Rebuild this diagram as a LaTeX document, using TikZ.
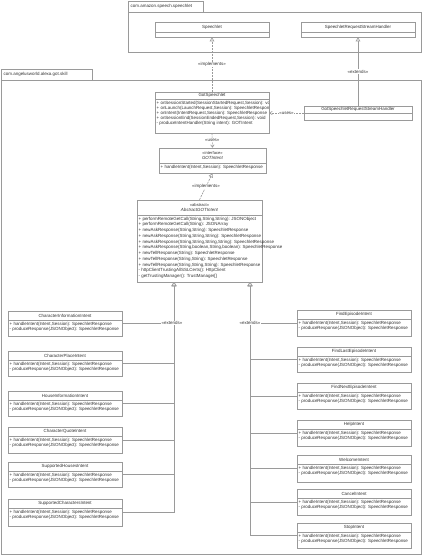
\documentclass[tikz,border=0pt]{standalone}
\usepackage{fontspec}
\setmainfont{Liberation Sans}
\usetikzlibrary{arrows.meta}
\definecolor{lc}{HTML}{9A9A9A}
\definecolor{tc}{HTML}{333333}
\tikzset{
  box/.style={draw=lc, line width=0.6pt, fill=white, inner sep=0pt, rectangle},
  txt/.style={font=\fontsize{4.45}{5.1}\selectfont, text=tc, inner sep=0.5pt},
  mth/.style={txt, anchor=north west, align=left},
  sepline/.style={draw=lc, line width=0.5pt},
  pkg/.style={draw=lc, line width=0.6pt},
  ext/.style={draw=lc, line width=0.6pt, -{Triangle[open, length=4pt, width=4.5pt, fill=white]}},
  impl/.style={ext, dash pattern=on 2pt off 1pt},
  uses/.style={draw=lc, line width=0.6pt, dash pattern=on 2pt off 1pt, -{Straight Barb[length=2.5pt, width=3.5pt]}},
  lbl/.style={txt, fill=white, inner sep=0.6pt},
}
% name x1 y1 x2 y2 ysep header
\newcommand{\umlcls}[7]{%
  \pgfmathsetmacro{\umlW}{#4-#2}\pgfmathsetmacro{\umlH}{#5-#3}%
  \pgfmathsetmacro{\umlX}{(#2+#4)/2}\pgfmathsetmacro{\umlY}{(#3+#5)/2}%
  \pgfmathsetmacro{\umlHY}{(#3+#6)/2}%
  \node[box, minimum width=\umlW pt, minimum height=\umlH pt] (#1) at (\umlX,\umlY) {};
  \draw[sepline] (#2,#6) -- (#4,#6);
  \node[txt, align=center] (#1-h) at (\umlX,\umlHY) {#7};
}
% name x ysep text
\newcommand{\umlops}[4]{%
  \node[mth] (#1-m) at (#2+1,#3+1.2) {#4};
}
\newcommand{\stdops}{+ handleIntent(Intent,Session): SpeechletResponse\\- produceResponse(JSONObject): SpeechletResponse}
\begin{document}
\begin{tikzpicture}[x=1pt,y=-1pt]
\useasboundingbox (0,0) rectangle (422,555);
\fill[white] (0,0) rectangle (422,555);

% packages
\draw[pkg] (128,1) rectangle (203,12);
\draw[pkg] (128,12) rectangle (421,52);
\node[txt, anchor=west] (pkgA) at (130,6.5) {com.amazon.speech.speechlet};
\draw[pkg] (1,69) rectangle (92,80);
\draw[pkg] (1,80) rectangle (421,554);
\node[txt, anchor=west] (pkgB) at (3,74.5) {com.angelusworld.alexa.got.skill};

% top classes
\umlcls{sp}{155}{22}{269}{37}{32}{Speechlet}
\umlcls{srsh}{301}{22}{415}{37}{32}{SpeechletRequestStreamHandler}

% GotSpeechlet
\umlcls{gs}{155}{92}{269}{133}{99}{GotSpeechlet}
\begin{scope}
\clip (155,99) rectangle (268.6,133);
\umlops{gs}{155}{99}{+ onSessionStarted(SessionStartedRequest,Session): void\\
+ onLaunch(LaunchRequest,Session): SpeechletResponse\\
+ onIntent(IntentRequest,Session): SpeechletResponse\\
+ onSessionEnd(SessionEndedRequest,Session): void\\
- produceIntentHandler(String intent): GOTIntent}
\end{scope}
\umlcls{gsrsh}{304}{106}{412}{120}{113}{GotSpeechletRequestStreamHandler}

% GOTIntent
\umlcls{gi}{159}{148}{266}{173}{163}{{\fontsize{4.1}{4.8}\selectfont «interface»}\\[0.2pt]\textit{GOTIntent}}
\umlops{gi}{159}{163}{+ handleIntent(Intent,Session): SpeechletResponse}

% AbstractGOTIntent
\umlcls{agi}{137}{200}{262}{282}{215}{{\fontsize{4.1}{4.8}\selectfont «abstract»}\\[0.6pt]\textit{AbstractGOTIntent}}
\node[mth, font=\fontsize{4.45}{5.75}\selectfont] (agi-m) at (138,216.2) {+ performRemoteGetCall(String,String,String): JSONObject\\
+ performRemoteGetCall(String): JSONArray\\
+ newAskResponse(String,String): SpeechletResponse\\
+ newAskResponse(String,String,String): SpeechletResponse\\
+ newAskResponse(String,String,String,String): SpeechletResponse\\
+ newAskResponse(String,boolean,String,boolean): SpeechletResponse\\
+ newTellResponse(String): SpeechletResponse\\
+ newTellResponse(String,String): SpeechletResponse\\
+ newTellResponse(String,String,String): SpeechletResponse\\
- httpClientTrustingAllSSLCerts(): HttpClient\\
- getTrustingManager(): TrustManager[]};

% left column
\umlcls{cii}{8}{311}{122}{336}{320}{CharacterInformationIntent}
\umlops{cii}{8}{320}{\stdops}
\umlcls{cpi}{8}{351}{122}{376}{360}{CharacterPlaceIntent}
\umlops{cpi}{8}{360}{\stdops}
\umlcls{hii}{8}{391}{122}{416}{400}{HouseInformationIntent}
\umlops{hii}{8}{400}{\stdops}
\umlcls{cqi}{8}{427}{122}{453}{436}{CharacterQuoteIntent}
\umlops{cqi}{8}{436}{\stdops}
\umlcls{shi}{8}{462}{122}{487}{471}{SupportedHousesIntent}
\umlops{shi}{8}{471}{\stdops}
\umlcls{sci}{8}{499}{122}{526}{508}{SupportedCharactersIntent}
\umlops{sci}{8}{508}{\stdops}

% right column
\umlcls{fei}{297}{310}{411}{336}{319}{FindEpisodeIntent}
\umlops{fei}{297}{319}{\stdops}
\umlcls{flei}{297}{347}{411}{372}{356}{FindLastEpisodeIntent}
\umlops{flei}{297}{356}{\stdops}
\umlcls{fnei}{297}{383}{411}{409}{392}{FindNextEpisodeIntent}
\umlops{fnei}{297}{392}{\stdops}
\umlcls{hi}{297}{420}{411}{446}{429}{HelpIntent}
\umlops{hi}{297}{429}{\stdops}
\umlcls{wi}{297}{455}{411}{482}{464}{WelcomeIntent}
\umlops{wi}{297}{464}{\stdops}
\umlcls{ci}{297}{489}{411}{515}{498}{CancelIntent}
\umlops{ci}{297}{498}{\stdops}
\umlcls{si}{297}{523}{411}{548}{532}{StopIntent}
\umlops{si}{297}{532}{\stdops}

% connectors
\draw[impl] (gs.north) -- (sp.south) node[lbl, pos=0.5] (l1) {«implements»};
\draw[ext] (gsrsh.north) -- (gsrsh.north |- srsh.south) node[lbl, pos=0.5] (l2) {«extends»};
\draw[uses] (gsrsh.west) -- (gsrsh.west -| gs.east) node[lbl, midway] (l3) {«uses»};
\draw[uses] (gs.south) -- (gi.north) node[lbl, midway] (l4) {«uses»};
\draw[impl] (agi.north) -- (gi.south) node[lbl, midway] (l5) {«implements»};

\coordinate (trL) at (174,282);
\coordinate (trR) at (250,282);
\foreach \c in {cii,cpi,hii,cqi,shi,sci}{
  \draw[ext] (\c.east) -| (trL);
}
\foreach \c in {fei,flei,fnei,hi,wi,ci,si}{
  \draw[ext] (\c.west) -| (trR);
}
\node[lbl] (l6) at (172,323) {«extends»};
\node[lbl] (l7) at (250,323) {«extends»};
\end{tikzpicture}
\end{document}
